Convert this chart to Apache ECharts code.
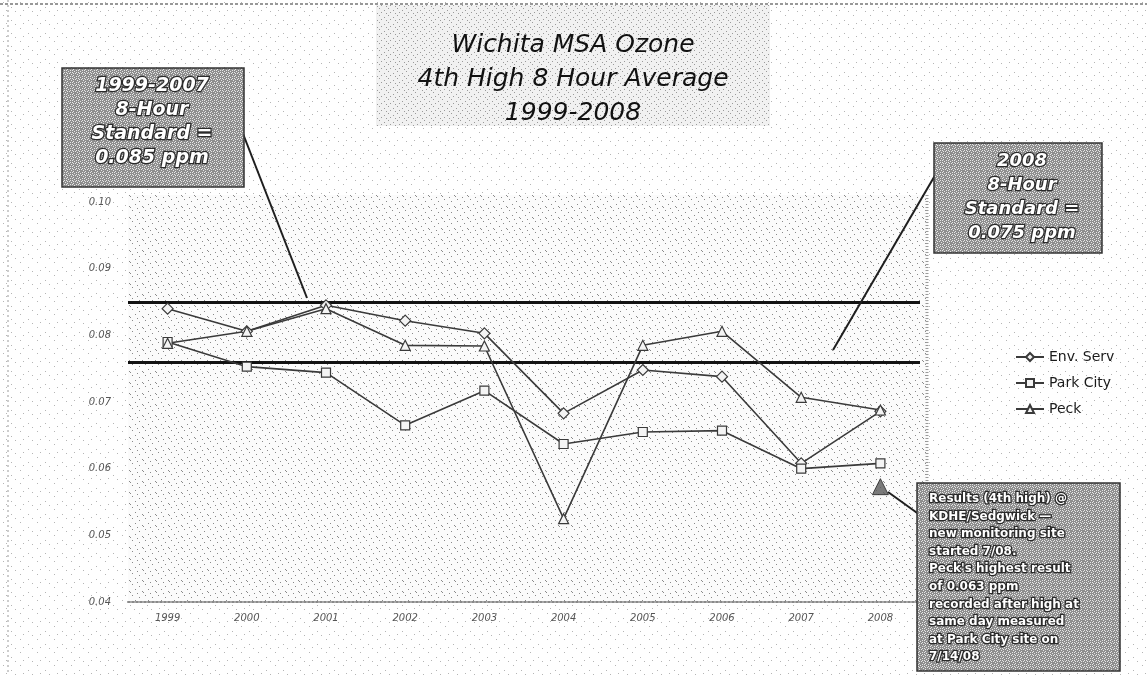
<!DOCTYPE html>
<html>
<head>
<meta charset="utf-8">
<title>Wichita MSA Ozone</title>
<script src="https://cdn.jsdelivr.net/npm/echarts@6/dist/echarts.min.js"></script>
<style>
html, body { margin: 0; padding: 0; background: #fff; }
#main { width: 1147px; height: 675px; }
</style>
</head>
<body>
<div id="main"></div>
<script>
// data
let years = ['1999', '2000', '2001', '2002', '2003', '2004', '2005', '2006', '2007', '2008'];
let envServ = [0.0840, 0.0806, 0.0845, 0.0822, 0.0803, 0.0683, 0.0748, 0.0738, 0.0608, 0.0686];
let parkCity = [0.0790, 0.0753, 0.0744, 0.0665, 0.0717, 0.0637, 0.0655, 0.0657, 0.0600, 0.0608];
let peck = [0.0788, 0.0806, 0.0840, 0.0785, 0.0784, 0.0525, 0.0785, 0.0806, 0.0707, 0.0688];
let peckNewSite = [['2008', 0.0573]];
let standards = [0.085, 0.076];
let yTicks = [0.04, 0.05, 0.06, 0.07, 0.08, 0.09, 0.10];

let titleLines = ['Wichita MSA Ozone', '4th High 8 Hour Average', '1999-2008'];
let oldStdText = ['1999-2007', '8-Hour', 'Standard =', '0.085 ppm'];
let newStdText = ['2008', '8-Hour', 'Standard =', '0.075 ppm'];
let noteText = [
    'Results (4th high) @',
    'KDHE/Sedgwick \u2014',
    'new monitoring site',
    'started 7/08.',
    "Peck's highest result",
    'of 0.063 ppm',
    'recorded after high at',
    'same day measured',
    'at Park City site on',
    '7/14/08'
];

// little dot patterns to fake the photocopy texture
function dotPattern(w, h, bg, color, dots) {
    let c = document.createElement('canvas');
    c.width = w;
    c.height = h;
    let ctx = c.getContext('2d');
    ctx.fillStyle = bg;
    ctx.fillRect(0, 0, w, h);
    ctx.fillStyle = color;
    dots.forEach(d => ctx.fillRect(d[0], d[1], 1, 1));
    return { image: c, repeat: 'repeat' };
}

let pagePattern = dotPattern(17, 13, '#ffffff', '#b5b5b5', [[3, 2], [11, 7], [15, 11], [6, 10]]);
let plotPattern = dotPattern(13, 11, '#fbfbfb', '#8a8a8a', [[2, 1], [9, 3], [5, 6], [12, 8], [0, 9], [7, 10]]);
let titlePattern = dotPattern(9, 7, '#f1f1f1', '#9a9a9a', [[1, 1], [6, 3], [3, 5], [8, 6]]);
let boxPattern = dotPattern(6, 6, '#8e8e8e', '#e6e6e6', [[0, 0], [3, 1], [1, 3], [4, 4], [2, 5], [5, 2], [1, 1], [4, 0], [0, 4]]);

let myChart = echarts.init(document.getElementById('main'));

function boxText(x, y, lines, font, lh, align) {
    return {
        type: 'text',
        x: x,
        y: y,
        z: 101,
        style: {
            text: lines.join('\n'),
            font: font,
            lineHeight: lh,
            fill: '#ffffff',
            stroke: '#2a2a2a',
            lineWidth: 2.5,
            align: align,
            textAlign: align,
            verticalAlign: 'top',
            textVerticalAlign: 'top'
        }
    };
}

let option = {
    backgroundColor: '#ffffff',
    animation: false,
    grid: { left: 128, right: 227, top: 202, bottom: 73 },
    legend: {
        orient: 'vertical',
        left: 1010,
        top: 345,
        itemGap: 12,
        itemWidth: 28,
        itemHeight: 10,
        data: ['Env. Serv', 'Park City', 'Peck'],
        textStyle: { fontFamily: 'DejaVu Sans', fontSize: 14, color: '#1a1a1a' }
    },
    xAxis: {
        type: 'category',
        data: years,
        boundaryGap: true,
        axisLine: { show: true, lineStyle: { color: '#8a8a8a', width: 2, type: 'dotted' } },
        axisTick: { show: false },
        axisLabel: {
            margin: 11,
            fontFamily: 'DejaVu Sans',
            fontStyle: 'italic',
            fontSize: 10,
            color: '#555'
        },
        splitLine: { show: false }
    },
    yAxis: {
        type: 'value',
        min: yTicks[0],
        max: yTicks[yTicks.length - 1],
        interval: 0.01,
        axisLine: { show: false },
        axisTick: { show: false },
        splitLine: { show: false },
        axisLabel: {
            margin: 17,
            fontFamily: 'DejaVu Sans',
            fontStyle: 'italic',
            fontSize: 10,
            color: '#555',
            formatter: v => v.toFixed(2)
        }
    },
    series: [
        {
            name: 'Env. Serv',
            type: 'line',
            data: envServ,
            symbol: 'diamond',
            symbolSize: 11,
            lineStyle: { color: '#3a3a3a', width: 1.6 },
            itemStyle: { color: '#f4f4f4', borderColor: '#3a3a3a', borderWidth: 1.2 },
            z: 5,
            markLine: {
                silent: true,
                symbol: 'none',
                precision: 4,
                label: { show: false },
                lineStyle: { color: '#111', width: 3, type: 'solid' },
                data: standards.map(v => ({ yAxis: v }))
            }
        },
        {
            name: 'Park City',
            type: 'line',
            data: parkCity,
            symbol: 'rect',
            symbolSize: 9,
            lineStyle: { color: '#3a3a3a', width: 1.6 },
            itemStyle: { color: '#f4f4f4', borderColor: '#3a3a3a', borderWidth: 1.2 },
            z: 5
        },
        {
            name: 'Peck',
            type: 'line',
            data: peck,
            symbol: 'triangle',
            symbolSize: 10,
            lineStyle: { color: '#3a3a3a', width: 1.6 },
            itemStyle: { color: '#f4f4f4', borderColor: '#3a3a3a', borderWidth: 1.2 },
            z: 5
        },
        {
            name: 'Peck new site',
            type: 'scatter',
            data: peckNewSite,
            symbol: 'triangle',
            symbolSize: 16,
            itemStyle: { color: '#5a5a5a', borderColor: '#222', borderWidth: 1 },
            z: 6
        }
    ],
    graphic: [
        // page and plot texture
        { type: 'rect', z: -10, shape: { x: 0, y: 0, width: 1147, height: 675 }, style: { fill: pagePattern } },
        { type: 'rect', z: -9, shape: { x: 128, y: 195, width: 800, height: 407 }, style: { fill: plotPattern } },
        { type: 'line', z: -8, shape: { x1: 927, y1: 195, x2: 927, y2: 602 }, style: { stroke: '#9a9a9a', lineWidth: 3, lineDash: [1, 2] } },
        { type: 'line', z: -8, shape: { x1: 8, y1: 0, x2: 8, y2: 675 }, style: { stroke: '#9a9a9a', lineWidth: 1, lineDash: [2, 3] } },
        { type: 'line', z: -8, shape: { x1: 0, y1: 4, x2: 1147, y2: 4 }, style: { stroke: '#777', lineWidth: 1.5, lineDash: [3, 2] } },

        // title box
        { type: 'rect', z: 100, shape: { x: 376, y: 5, width: 394, height: 121 }, style: { fill: titlePattern } },
        {
            type: 'text', x: 573, y: 28, z: 101,
            style: {
                text: titleLines.join('\n'),
                font: 'italic 25px "DejaVu Sans"',
                lineHeight: 34,
                fill: '#111',
                align: 'center', textAlign: 'center',
                verticalAlign: 'top', textVerticalAlign: 'top'
            }
        },

        // 1999-2007 standard callout
        { type: 'line', z: 99, shape: { x1: 240, y1: 126, x2: 307, y2: 298 }, style: { stroke: '#1e1e1e', lineWidth: 2 } },
        { type: 'rect', z: 100, shape: { x: 62, y: 68, width: 182, height: 119 }, style: { fill: boxPattern, stroke: '#333', lineWidth: 1.5 } },
        boxText(152, 74, oldStdText, 'italic bold 19px "DejaVu Sans"', 24, 'center'),

        // 2008 standard callout
        { type: 'line', z: 99, shape: { x1: 937, y1: 172, x2: 833, y2: 350 }, style: { stroke: '#1e1e1e', lineWidth: 2 } },
        { type: 'rect', z: 100, shape: { x: 934, y: 143, width: 168, height: 110 }, style: { fill: boxPattern, stroke: '#333', lineWidth: 1.5 } },
        boxText(1022, 149, newStdText, 'italic bold 18px "DejaVu Sans"', 24, 'center'),

        // Peck note
        { type: 'line', z: 99, shape: { x1: 888, y1: 492, x2: 920, y2: 515 }, style: { stroke: '#1e1e1e', lineWidth: 2 } },
        { type: 'rect', z: 100, shape: { x: 917, y: 483, width: 203, height: 188 }, style: { fill: boxPattern, stroke: '#333', lineWidth: 1.5 } },
        boxText(929, 490, noteText, 'bold 12px "DejaVu Sans"', 17.6, 'left')
    ]
};

myChart.setOption(option);
</script>
</body>
</html>
